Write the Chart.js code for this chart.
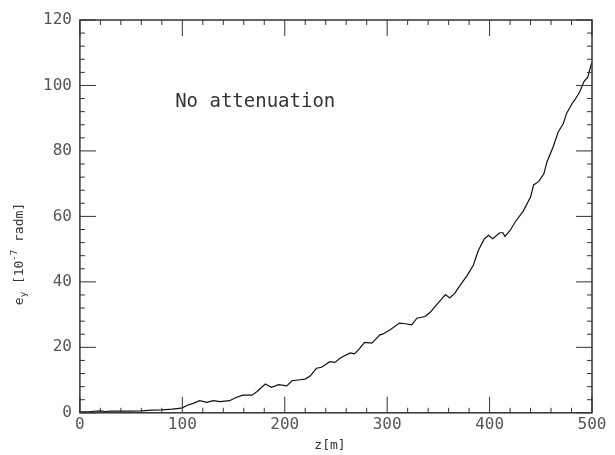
<!DOCTYPE html>
<html>
<head>
<meta charset="utf-8">
<script src="https://cdn.jsdelivr.net/npm/chart.js@4/dist/chart.umd.min.js"></script>
<style>
  html, body { margin: 0; padding: 0; background: #fff; overflow: hidden; }
</style>
</head>
<body>
<canvas id="emitChart" width="615" height="455"></canvas>
<script>
// z position [m] and vertical emittance e_y [1e-7 rad m]
const zValues = [0, 10, 20, 25, 30, 40, 50, 60, 70, 80, 90, 95, 100, 105, 110, 117, 124, 130, 137, 146,
  152, 159, 168, 173, 181, 187, 194, 202, 207, 215, 220, 225, 231, 236, 244, 249, 255, 264, 268, 272,
  278, 285, 293, 296, 303, 312, 318, 324, 329, 337, 342, 349, 357, 361, 366, 370, 378, 384, 389, 395,
  399, 403, 410, 413, 415, 420, 425, 433, 440, 443, 448, 453, 456, 462, 467, 472, 475, 481, 483, 488,
  492, 496, 499, 500];
const eyValues = [0.3, 0.4, 0.6, 0.4, 0.5, 0.5, 0.5, 0.6, 0.8, 0.9, 1.1, 1.3, 1.5, 2.3, 2.8, 3.7, 3.2, 3.7, 3.4, 3.7,
  4.6, 5.4, 5.4, 6.5, 8.8, 7.8, 8.6, 8.2, 9.8, 10.1, 10.3, 11.3, 13.6, 13.9, 15.6, 15.4, 16.9, 18.3, 18.0, 19.2,
  21.5, 21.3, 23.8, 24.1, 25.4, 27.4, 27.2, 26.9, 28.9, 29.4, 30.7, 33.3, 36.1, 35.1, 36.5, 38.4, 41.9, 45.0, 49.6, 53.2,
  54.2, 53.2, 55.0, 55.0, 53.9, 55.7, 58.3, 61.7, 65.9, 69.6, 70.7, 73.0, 76.6, 81.2, 85.8, 88.4, 91.4, 94.7, 95.5, 98.0,
  101.1, 102.6, 106.2, 107.0];

const xMajor = [0, 100, 200, 300, 400, 500];
const yMajor = [0, 20, 40, 60, 80, 100, 120];
const xMinorStep = 20;
const yMinorStep = 4;

const ink = '#333';
const mono = '"DejaVu Sans Mono"';

// frame, inward ticks on all four sides, axis titles and annotation
const framePlugin = {
  id: 'frame',
  afterDraw(chart) {
    const { ctx, chartArea: a } = chart;
    const xs = chart.scales.x, ys = chart.scales.y;
    ctx.save();
    ctx.strokeStyle = ink;
    ctx.lineWidth = 1.5;
    ctx.strokeRect(a.left, a.top, a.right - a.left, a.bottom - a.top);

    ctx.lineWidth = 1;
    ctx.beginPath();
    for (let v = 0; v <= 500; v += xMinorStep) {
      const px = xs.getPixelForValue(v);
      const len = xMajor.includes(v) ? 16 : 5;
      ctx.moveTo(px, a.bottom); ctx.lineTo(px, a.bottom - len);
      ctx.moveTo(px, a.top); ctx.lineTo(px, a.top + len);
    }
    for (let v = 0; v <= 120; v += yMinorStep) {
      const py = ys.getPixelForValue(v);
      const len = yMajor.includes(v) ? 16 : 5;
      ctx.moveTo(a.left, py); ctx.lineTo(a.left + len, py);
      ctx.moveTo(a.right, py); ctx.lineTo(a.right - len, py);
    }
    ctx.stroke();

    ctx.fillStyle = ink;
    // x title
    ctx.font = '13px ' + mono;
    ctx.textAlign = 'center';
    ctx.textBaseline = 'middle';
    ctx.fillText('z[m]', 330, 446);

    // y title with subscript / superscript
    ctx.save();
    ctx.translate(20, 254);
    ctx.rotate(-Math.PI / 2);
    ctx.textAlign = 'left';
    ctx.textBaseline = 'middle';
    const parts = [
      ['e', '13px ' + mono, 0],
      ['y', '9px ' + mono, 4],
      [' [10', '13px ' + mono, 0],
      ['-7', '9px ' + mono, -5],
      [' radm]', '13px ' + mono, 0]
    ];
    let total = 0;
    parts.forEach(p => { ctx.font = p[1]; total += ctx.measureText(p[0]).width; });
    let cx = -total / 2;
    parts.forEach(p => {
      ctx.font = p[1];
      ctx.fillText(p[0], cx, p[2]);
      cx += ctx.measureText(p[0]).width;
    });
    ctx.restore();

    // annotation
    ctx.font = '19px ' + mono;
    ctx.textAlign = 'left';
    ctx.fillText('No attenuation', xs.getPixelForValue(93), ys.getPixelForValue(94.8));
    ctx.restore();
  }
};

const ctx = document.getElementById('emitChart').getContext('2d');

new Chart(ctx, {
  type: 'scatter',
  data: {
    datasets: [{
      data: zValues.map((z, i) => ({ x: z, y: eyValues[i] })),
      showLine: true,
      borderColor: '#111',
      borderWidth: 1.2,
      pointRadius: 0,
      tension: 0
    }]
  },
  options: {
    responsive: false,
    animation: false,
    devicePixelRatio: 1,
    layout: {
      padding: { left: 35, right: 23, top: 20, bottom: 19 }
    },
    plugins: {
      legend: { display: false },
      tooltip: { enabled: false }
    },
    scales: {
      x: {
        type: 'linear',
        min: 0,
        max: 500,
        grid: { display: false, drawTicks: false },
        border: { display: false },
        ticks: {
          stepSize: 100,
          padding: 2,
          color: '#555',
          font: { family: 'DejaVu Sans Mono', size: 16 },
          maxRotation: 0
        }
      },
      y: {
        min: 0,
        max: 120,
        grid: { display: false, drawTicks: false },
        border: { display: false },
        ticks: {
          stepSize: 20,
          padding: 8,
          color: '#555',
          font: { family: 'DejaVu Sans Mono', size: 16 }
        }
      }
    }
  },
  plugins: [framePlugin]
});
</script>
</body>
</html>
